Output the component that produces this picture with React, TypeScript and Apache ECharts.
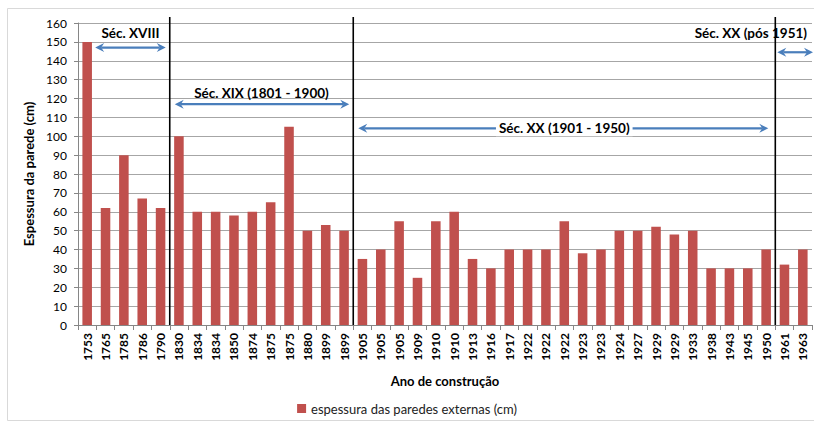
import React, { useEffect, useRef } from "react";
import * as echarts from "echarts";

const years = ["1753","1765","1785","1786","1790","1830","1834","1834","1850","1874","1875","1875","1880","1899","1899","1905","1905","1905","1909","1910","1910","1913","1916","1917","1922","1922","1922","1923","1923","1924","1927","1929","1929","1933","1938","1943","1945","1950","1961","1963"];
const thickness = [150,62,90,67,62,100,60,60,58,60,65,105,50,53,50,35,40,55,25,55,60,35,30,40,40,40,55,38,40,50,50,52,48,50,30,30,30,40,32,40];
const seriesName = "espessura das paredes externas (cm)";
// index of last bar before each century boundary
const periodBreaks = [4, 14, 37];
const periodLabels = ["Séc. XVIII", "Séc. XIX (1801 - 1900)", "Séc. XX (1901 - 1950)", "Séc. XX (pós 1951)"];

const FONT = "Lato";
const ARROW = "#4A7EBB";

function arrow(x1: number, x2: number, y: number) {
  const h = 4.5, l = 9, n = 6;
  return [
    { type: "line", shape: { x1: x1 + n, y1: y, x2: x2 - n, y2: y }, style: { stroke: ARROW, lineWidth: 2.2 }, z: 10 },
    { type: "polygon", shape: { points: [[x2, y], [x2 - l, y - h], [x2 - n, y], [x2 - l, y + h]] }, style: { fill: ARROW }, z: 10 },
    { type: "polygon", shape: { points: [[x1, y], [x1 + l, y - h], [x1 + n, y], [x1 + l, y + h]] }, style: { fill: ARROW }, z: 10 },
  ];
}

export default function App() {
  const ref = useRef<HTMLDivElement>(null);
  useEffect(() => {
    document.body.style.margin = "0";
    const chart = echarts.init(ref.current!, null, { renderer: "svg" });
    chart.setOption({
      animation: false,
      textStyle: { fontFamily: FONT },
      grid: { left: 78, right: 2, top: 23, bottom: 102 },
      legend: {
        data: [seriesName],
        bottom: 7,
        left: "center",
        icon: "rect",
        itemWidth: 9,
        itemHeight: 9,
        itemGap: 5,
        textStyle: { fontFamily: FONT, fontSize: 13, color: "#222" },
      },
      xAxis: {
        type: "category",
        data: years,
        name: "Ano de construção",
        nameLocation: "middle",
        nameGap: 49,
        nameTextStyle: { fontFamily: FONT, fontSize: 13, fontWeight: "bold", color: "#000" },
        axisLine: { lineStyle: { color: "#868686" } },
        axisTick: { show: true, length: 5, lineStyle: { color: "#868686" } },
        axisLabel: { interval: 0, rotate: 90, fontFamily: FONT, fontSize: 12, fontWeight: "bold", color: "#000", margin: 8 },
      },
      yAxis: {
        type: "value",
        min: 0,
        max: 160,
        interval: 10,
        name: "Espessura da parede (cm)",
        nameLocation: "middle",
        nameGap: 41,
        nameTextStyle: { fontFamily: FONT, fontSize: 13, fontWeight: "bold", color: "#000" },
        axisLine: { show: true, lineStyle: { color: "#868686" } },
        axisTick: { show: true, length: 4, lineStyle: { color: "#868686" } },
        axisLabel: { fontFamily: FONT, fontSize: 12, color: "#000", margin: 11 },
        splitLine: { lineStyle: { color: "#A6A6A6" } },
      },
      series: [
        {
          name: seriesName,
          type: "bar",
          data: thickness,
          barWidth: "52%",
          itemStyle: { color: "#C0504D" },
        },
      ],
    });

    const xp = (i: number) => chart.convertToPixel({ xAxisIndex: 0 }, i) as number;
    const yp = (v: number) => chart.convertToPixel({ yAxisIndex: 0 }, v) as number;
    const b = periodBreaks.map((k) => (xp(k) + xp(k + 1)) / 2);
    const yTop = yp(160) - 6;
    const yBot = yp(0);
    const right = xp(years.length - 1) + (xp(1) - xp(0)) / 2;

    const textStyle = (x: number, y: number, t: string, align: string, bg?: boolean) => ({
      type: "text",
      x,
      y,
      z: 12,
      style: {
        text: t,
        fill: "#000",
        font: `bold 13.5px ${FONT}`,
        align,
        verticalAlign: "middle",
        ...(bg ? { backgroundColor: "#fff", padding: [1, 3] } : {}),
      },
    });

    const graphic: any[] = [
      { type: "rect", shape: { x: 7.5, y: 8.5, width: 900, height: 412 }, style: { fill: "none", stroke: "#D9D9D9", lineWidth: 1 }, z: 0, silent: true },
      ...b.map((x) => ({ type: "line", shape: { x1: x, y1: yTop, x2: x, y2: yBot }, style: { stroke: "#000", lineWidth: 1.6 }, z: 9 })),
      ...arrow(xp(0) + 8, b[0] - 4, yp(147)),
      textStyle((xp(0) + 8 + b[0] - 4) / 2, yp(154.5), periodLabels[0], "center"),
      ...arrow(b[0] + 5, b[1] - 4, yp(117)),
      textStyle((b[0] + b[1]) / 2, yp(123), periodLabels[1], "center"),
      ...arrow(b[1] + 5, b[2] - 7, yp(104.2)),
      textStyle((b[1] + b[2]) / 2, yp(104.2), periodLabels[2], "center", true),
      ...arrow(b[2] + 2, right + 1, yp(144.5)),
      textStyle(right - 5, yp(154.5), periodLabels[3], "right"),
    ];
    chart.setOption({ graphic });

    return () => chart.dispose();
  }, []);
  return <div ref={ref} style={{ position: "absolute", left: 0, top: 0, width: 814, height: 427 }} />;
}
